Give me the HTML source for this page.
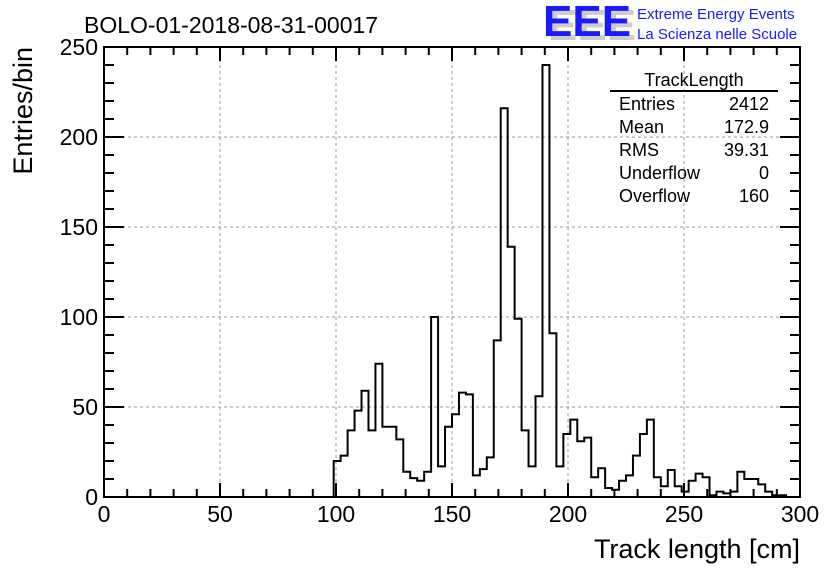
<!DOCTYPE html>
<html><head><meta charset="utf-8"><style>
body{margin:0;background:#fff;}
svg{display:block;font-family:"Liberation Sans",sans-serif;}
</style></head><body>
<svg id="chart" width="836" height="572" viewBox="0 0 836 572" xmlns="http://www.w3.org/2000/svg">
<rect width="836" height="572" fill="#fff"/>
<g id="grid"></g>
<g id="ticks"></g>
<path id="hist" fill="none" stroke="#000" stroke-width="2"/>
<rect x="104" y="47" width="696" height="450" fill="none" stroke="#000" stroke-width="2"/>
<text x="84" y="33" font-size="23">BOLO-01-2018-08-31-00017</text>
<g>
<text x="548" y="40" font-size="44" fill="#ccc" font-weight="bold">EEE</text>
<text x="543" y="36" font-size="44" fill="#1a1aff" font-weight="bold">EEE</text>
<text x="637" y="19" font-size="15" fill="#1a1aff">Extreme Energy Events</text>
<text x="637" y="39" font-size="15" fill="#1a1aff">La Scienza nelle Scuole</text>
</g>
<text x="800" y="558" font-size="27" text-anchor="end">Track length [cm]</text>
<text transform="translate(32,47) rotate(-90)" font-size="27" text-anchor="end">Entries/bin</text>
<g font-size="18">
<text x="694" y="86" text-anchor="middle">TrackLength</text>
<line x1="610" y1="91" x2="778" y2="91" stroke="#000" stroke-width="2"/>
<text x="619" y="110">Entries</text><text x="769" y="110" text-anchor="end">2412</text>
<text x="619" y="133">Mean</text><text x="769" y="133" text-anchor="end">172.9</text>
<text x="619" y="156">RMS</text><text x="769" y="156" text-anchor="end">39.31</text>
<text x="619" y="179">Underflow</text><text x="769" y="179" text-anchor="end">0</text>
<text x="619" y="202">Overflow</text><text x="769" y="202" text-anchor="end">160</text>
</g>
</svg>
<script>
const binStart = 99;
const binWidth = 3;
const counts = [20,23,37,48,59,37,74,39,39,32,14,10.5,9,14,100,17,39,46,58,57,12,15.5,22,87,216,139,99,37,17,56,240,91,17,35,43,31,33,11,16,5,4,9,12,23,35,43,11,6,15,6,3,9,13,11,1,3,2,3,14,10,10,7,3,1,1,0,0];
const xTicks = [0,50,100,150,200,250,300];
const yTicks = [0,50,100,150,200,250];
const X0=104,X1=800,Y0=497,Y1=47;
const sx=v=>X0+(v/300)*(X1-X0);
const sy=v=>Y0-(v/250)*(Y0-Y1);
const NS="http://www.w3.org/2000/svg";
const svg=document.getElementById('chart');
const grid=document.getElementById('grid');
const ticks=document.getElementById('ticks');
function mk(tag,attrs,parent){const e=document.createElementNS(NS,tag);for(const k in attrs)e.setAttribute(k,attrs[k]);parent.appendChild(e);return e;}
// grid
xTicks.forEach(v=>{if(v>0&&v<300){const l=mk('line',{x1:sx(v),x2:sx(v),y1:Y1,y2:Y0,stroke:'#999','stroke-dasharray':'3,3'},grid);

}});
yTicks.forEach(v=>{if(v>0&&v<250){const l=mk('line',{x1:X0,x2:X1,y1:sy(v),y2:sy(v),stroke:'#999','stroke-dasharray':'3,3'},grid);

}});
// x ticks
for(let v=0;v<=300;v+=10){const big=v%50===0;const len=big?14:8;
mk('line',{x1:sx(v),x2:sx(v),y1:Y0,y2:Y0-len,stroke:'#000','stroke-width':2},ticks);
mk('line',{x1:sx(v),x2:sx(v),y1:Y1,y2:Y1+len,stroke:'#000','stroke-width':2},ticks);}
xTicks.forEach(v=>{const t=mk('text',{x:sx(v),y:522,'font-size':23,'text-anchor':'middle'},ticks);t.textContent=v;

});
for(let v=0;v<=250;v+=10){const big=v%50===0;const len=big?20:10;
mk('line',{x1:X0,x2:X0+len,y1:sy(v),y2:sy(v),stroke:'#000','stroke-width':2},ticks);
mk('line',{x1:X1,x2:X1-len,y1:sy(v),y2:sy(v),stroke:'#000','stroke-width':2},ticks);}
yTicks.forEach(v=>{const t=mk('text',{x:98,y:sy(v)+8,'font-size':23,'text-anchor':'end'},ticks);t.textContent=v;

});
// histogram
let d='M'+sx(binStart)+','+sy(0);
counts.forEach((c,i)=>{const a=binStart+i*binWidth,b=a+binWidth;d+=' L'+sx(a)+','+sy(c)+' L'+sx(b)+','+sy(c);});
document.getElementById('hist').setAttribute('d',d);
</script>
</body></html>
